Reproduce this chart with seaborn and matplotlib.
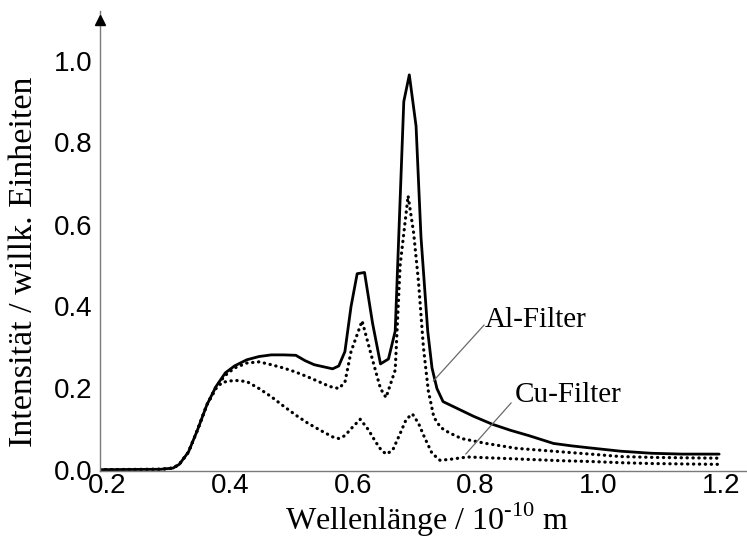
import numpy as np
import pandas as pd
import matplotlib
matplotlib.use("Agg")
import matplotlib.pyplot as plt
import matplotlib.transforms as mtransforms
import seaborn as sns

# Wavelength grid (10^-10 m) and intensities for the three spectra
x_ohne = [0.20, 0.30, 0.32, 0.33, 0.345, 0.36, 0.375, 0.39, 0.405, 0.42, 0.44, 0.46,
          0.48, 0.50, 0.52, 0.535, 0.55, 0.565, 0.58, 0.59, 0.60, 0.61, 0.62, 0.632,
          0.645, 0.658, 0.671, 0.682, 0.688, 0.696, 0.705, 0.716, 0.724, 0.735, 0.742,
          0.750, 0.760, 0.785, 0.81, 0.84, 0.87, 0.90, 0.94, 0.97, 1.00, 1.05, 1.10,
          1.15, 1.21]
y_ohne = [0.002, 0.003, 0.006, 0.015, 0.045, 0.10, 0.16, 0.205, 0.238, 0.255, 0.270,
          0.278, 0.282, 0.282, 0.281, 0.268, 0.258, 0.253, 0.248, 0.255, 0.29, 0.40,
          0.48, 0.483, 0.36, 0.26, 0.272, 0.34, 0.58, 0.90, 0.965, 0.84, 0.57, 0.34,
          0.25, 0.20, 0.168, 0.15, 0.132, 0.113, 0.098, 0.085, 0.066, 0.060, 0.055,
          0.047, 0.042, 0.040, 0.040]

x_al = [0.20, 0.30, 0.32, 0.33, 0.345, 0.36, 0.375, 0.39, 0.405, 0.42, 0.44, 0.46,
        0.48, 0.50, 0.52, 0.54, 0.56, 0.575, 0.59, 0.60, 0.61, 0.628, 0.645, 0.658,
        0.667, 0.682, 0.690, 0.703, 0.712, 0.72, 0.728, 0.736, 0.745, 0.756, 0.77,
        0.79, 0.83, 0.88, 0.94, 1.00, 1.05, 1.10, 1.15, 1.21]
y_al = [0.002, 0.003, 0.006, 0.015, 0.045, 0.10, 0.16, 0.205, 0.232, 0.250, 0.262,
        0.265, 0.258, 0.250, 0.240, 0.228, 0.215, 0.205, 0.200, 0.215, 0.29, 0.365,
        0.27, 0.20, 0.178, 0.245, 0.50, 0.67, 0.58, 0.46, 0.30, 0.194, 0.13, 0.105,
        0.092, 0.078, 0.066, 0.054, 0.047, 0.040, 0.034, 0.032, 0.031, 0.030]

x_cu = [0.20, 0.30, 0.32, 0.33, 0.345, 0.36, 0.375, 0.39, 0.40, 0.42, 0.44, 0.46,
        0.48, 0.50, 0.52, 0.54, 0.56, 0.58, 0.59, 0.60, 0.612, 0.625, 0.638, 0.650,
        0.66, 0.668, 0.678, 0.690, 0.700, 0.710, 0.720, 0.730, 0.742, 0.755, 0.77,
        0.80, 0.85, 0.90, 0.95, 1.00, 1.05, 1.10, 1.15, 1.21]
y_cu = [0.002, 0.003, 0.006, 0.015, 0.045, 0.10, 0.16, 0.20, 0.215, 0.220, 0.217,
        0.200, 0.180, 0.157, 0.135, 0.115, 0.098, 0.082, 0.078, 0.085, 0.105, 0.125,
        0.10, 0.07, 0.048, 0.040, 0.05, 0.09, 0.125, 0.138, 0.115, 0.080, 0.042,
        0.025, 0.027, 0.033, 0.030, 0.027, 0.024, 0.022, 0.019, 0.017, 0.016, 0.015]

x_ticks = [0.2, 0.4, 0.6, 0.8, 1.0, 1.2]
y_ticks = [0.0, 0.2, 0.4, 0.6, 0.8, 1.0]
x_label = "Wellenlänge / 10$^{\\text{-10}}$ m"
y_label = "Intensität / willk. Einheiten"
annotations = [("Al-Filter", (0.828, 0.350), (0.827, 0.355), (0.744, 0.218)),
               ("Cu-Filter", (0.877, 0.167), (0.871, 0.165), (0.797, 0.040))]

sns.set_theme(style="white")
plt.rcParams["font.family"] = ["Liberation Serif", "DejaVu Serif"]
plt.rcParams["mathtext.fontset"] = "custom"
plt.rcParams["mathtext.rm"] = "Liberation Serif"
plt.rcParams["text.color"] = "black"

W, H = 747, 538
fig = plt.figure(figsize=(W / 100, H / 100), dpi=100)
x0_px, y0_px = 99.5, 470.5
px_per_x, px_per_y = 613.5, 410.0
ytop = (y0_px - 11) / px_per_y
xright = 0.2 + (W - x0_px) / px_per_x
ax = fig.add_axes([x0_px / W, (H - y0_px) / H, (W - x0_px) / W, (y0_px - 11) / H])

dot = (0, (0.1, 1.75))
sns.lineplot(x=x_ohne, y=y_ohne, ax=ax, color="black", lw=2.0, sort=False)
for xs, ys in [(x_al, y_al), (x_cu, y_cu)]:
    sns.lineplot(x=xs, y=ys, ax=ax, color="black", lw=2.3, sort=False,
                 linestyle=dot, dash_capstyle="round")

ax.set_xlim(0.2, xright)
ax.set_ylim(0, ytop)

for s in ["top", "right"]:
    ax.spines[s].set_visible(False)
for s in ["left", "bottom"]:
    ax.spines[s].set_color("#7a7a7a")
    ax.spines[s].set_linewidth(1.0)

# arrow head on the intensity axis
ax.plot([0.2], [ytop - 0.022], marker="^", ms=7, color="black", clip_on=False,
        zorder=5)

ax.set_xticks(x_ticks)
ax.set_yticks(y_ticks)
ax.set_xticklabels([f"{v:.1f}" for v in x_ticks])
ax.set_yticklabels([f"{v:.1f}" for v in y_ticks])
ax.tick_params(direction="in", length=4, width=0.8, color="#9a9a9a",
               labelsize=20, labelcolor="black")
ax.tick_params(axis="x", pad=2)
ax.tick_params(axis="y", pad=5)
for lab in ax.get_xticklabels() + ax.get_yticklabels():
    lab.set_family(["Liberation Sans", "DejaVu Sans"])
shift = mtransforms.ScaledTranslation(8 / 100, 0, fig.dpi_scale_trans)
for lab in ax.get_xticklabels():
    lab.set_transform(lab.get_transform() + shift)

ax.set_xlabel("")
ax.set_ylabel("")
fig.text(427 / W, 1 - 530 / H, x_label, ha="center", va="baseline", fontsize=23,
         color="black")
fig.text(24 / W, 1 - 262 / H, y_label, ha="center", va="center", rotation=90,
         fontsize=24.5, color="black")

for text, tpos, p_start, p_end in annotations:
    ax.plot([p_start[0], p_end[0]], [p_start[1], p_end[1]], color="#6a6a6a",
            lw=0.9)
    ax.text(tpos[0], tpos[1], text, ha="left", va="baseline", fontsize=21,
            color="black")

fig.savefig("out.png", dpi=100, facecolor="white")
